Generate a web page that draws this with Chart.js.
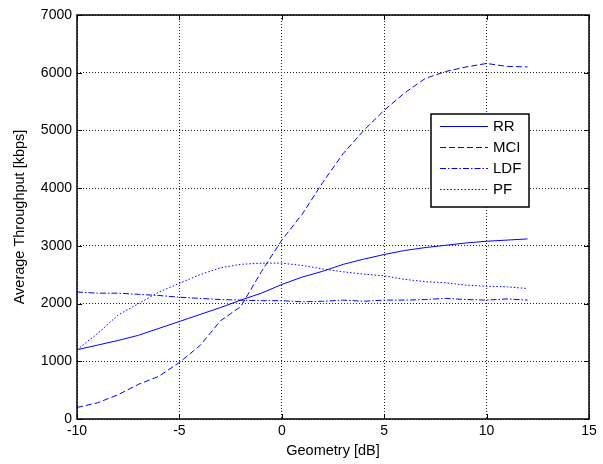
<!DOCTYPE html>
<html>
<head>
<meta charset="utf-8">
<script src="https://cdn.jsdelivr.net/npm/chart.js@4.4.1/dist/chart.umd.min.js"></script>
<style>
  html, body { margin: 0; padding: 0; background: #fff; }
  #wrap { width: 603px; height: 464px; position: relative; }
</style>
</head>
<body>
<div id="wrap"><canvas id="chart"></canvas></div>
<script>
// --- Dados ---
const geometry = [-10, -9, -8, -7, -6, -5, -4, -3, -2, -1, 0, 1, 2, 3, 4, 5, 6, 7, 8, 9, 10, 11, 12];
const rr  = [1200, 1280, 1360, 1450, 1570, 1690, 1810, 1930, 2060, 2180, 2330, 2460, 2560, 2680, 2770, 2850, 2920, 2970, 3010, 3050, 3080, 3100, 3120];
const mci = [200, 280, 420, 600, 740, 980, 1270, 1700, 1950, 2550, 3100, 3550, 4100, 4600, 5000, 5350, 5650, 5900, 6020, 6100, 6160, 6110, 6100];
const ldf = [2200, 2180, 2180, 2160, 2140, 2110, 2090, 2070, 2060, 2050, 2050, 2030, 2040, 2060, 2040, 2060, 2060, 2070, 2090, 2070, 2060, 2080, 2060];
const pf  = [1200, 1480, 1800, 2000, 2200, 2350, 2500, 2620, 2680, 2700, 2700, 2660, 2600, 2550, 2510, 2480, 2420, 2380, 2360, 2320, 2300, 2290, 2260];

const seriesLabels = ['RR', 'MCI', 'LDF', 'PF'];
const xTicks = [-10, -5, 0, 5, 10, 15];
const yTicks = [0, 1000, 2000, 3000, 4000, 5000, 6000, 7000];

const blue = '#0000ff';
const dashes = [[], [6, 3], [6, 2, 1.5, 2], [1.5, 2]];
const fontFamily = '"Liberation Sans", Arial, sans-serif';

function toPoints(values) {
    return values.map((v, i) => ({ x: geometry[i], y: v }));
}

const allSeries = [rr, mci, ldf, pf];

// Moldura estilo MATLAB + ticks internos + legenda
const matlabFrame = {
    id: 'matlabFrame',
    afterDatasetsDraw(chart) {
        const { ctx, chartArea: a, scales } = chart;
        ctx.save();
        ctx.strokeStyle = '#000';
        ctx.lineWidth = 1;
        ctx.setLineDash([]);
        // ticks internos
        ctx.beginPath();
        xTicks.forEach(t => {
            const px = Math.round(scales.x.getPixelForValue(t)) + 0.5;
            ctx.moveTo(px, a.bottom); ctx.lineTo(px, a.bottom - 5);
            ctx.moveTo(px, a.top); ctx.lineTo(px, a.top + 5);
        });
        yTicks.forEach(t => {
            const py = Math.round(scales.y.getPixelForValue(t)) + 0.5;
            ctx.moveTo(a.left, py); ctx.lineTo(a.left + 5, py);
            ctx.moveTo(a.right, py); ctx.lineTo(a.right - 5, py);
        });
        ctx.stroke();
        ctx.lineWidth = 1.5;
        ctx.strokeRect(Math.round(a.left), Math.round(a.top), Math.round(a.right - a.left), Math.round(a.bottom - a.top));

        // legenda
        const lx = 431, ly = 114, lw = 98, lh = 93;
        ctx.fillStyle = '#fff';
        ctx.fillRect(lx, ly, lw, lh);
        ctx.strokeStyle = '#000';
        ctx.lineWidth = 1.5;
        ctx.strokeRect(lx, ly, lw, lh);
        ctx.font = '15px ' + fontFamily;
        ctx.textBaseline = 'middle';
        chart.data.datasets.forEach((ds, i) => {
            const y = ly + 12 + i * 21;
            ctx.beginPath();
            ctx.strokeStyle = ds.borderColor;
            ctx.lineWidth = 1;
            ctx.setLineDash(ds.borderDash || []);
            ctx.moveTo(lx + 9, y + 0.5);
            ctx.lineTo(lx + 57, y + 0.5);
            ctx.stroke();
            ctx.setLineDash([]);
            ctx.fillStyle = '#000';
            ctx.fillText(ds.label, lx + 62, y + 1);
        });
        ctx.restore();
    }
};

const ctx = document.getElementById('chart').getContext('2d');
new Chart(ctx, {
    type: 'line',
    data: {
        datasets: allSeries.map((vals, i) => ({
            label: seriesLabels[i],
            data: toPoints(vals),
            borderColor: blue,
            backgroundColor: blue,
            borderWidth: 1,
            borderDash: dashes[i],
            pointRadius: 0,
            tension: 0,
            fill: false
        }))
    },
    options: {
        responsive: true,
        maintainAspectRatio: false,
        animation: false,
        layout: { padding: { top: 15, right: 14, left: 0, bottom: 0 } },
        plugins: {
            legend: { display: false },
            tooltip: { enabled: false }
        },
        scales: {
            x: {
                type: 'linear',
                min: -10,
                max: 15,
                afterBuildTicks: s => { s.ticks = xTicks.map(v => ({ value: v })); },
                afterFit: s => { s.height = 45; },
                grid: { color: '#222', lineWidth: 1, drawTicks: false },
                border: { display: false, dash: [1, 2] },
                ticks: { color: '#000', padding: 4, maxRotation: 0, callback: v => String(v), font: { family: fontFamily, size: 14 } },
                title: { display: true, text: 'Geometry [dB]', color: '#000', padding: { top: 2, bottom: 4 }, font: { family: fontFamily, size: 14.5 } }
            },
            y: {
                min: 0,
                max: 7000,
                afterBuildTicks: s => { s.ticks = yTicks.map(v => ({ value: v })); },
                afterFit: s => { s.width = 77; },
                grid: { color: '#222', lineWidth: 1, drawTicks: false },
                border: { display: false, dash: [1, 2] },
                ticks: { color: '#000', padding: 5, callback: v => String(v), font: { family: fontFamily, size: 14 } },
                title: { display: true, text: 'Average Throughput [kbps]', color: '#000', padding: { top: 11, bottom: 0 }, font: { family: fontFamily, size: 14.5 } }
            }
        }
    },
    plugins: [matlabFrame]
});
</script>
</body>
</html>
